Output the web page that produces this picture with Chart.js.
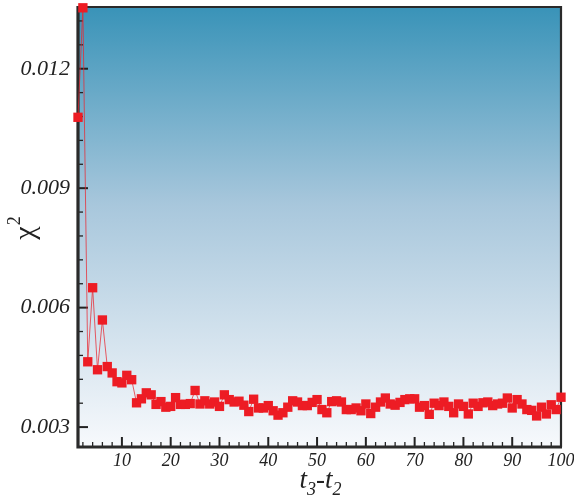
<!DOCTYPE html>
<html>
<head>
<meta charset="utf-8">
<script src="https://cdn.jsdelivr.net/npm/chart.js@4"></script>
<style>
  body { margin: 0; background: #fff; }
  #wrap { width: 574px; height: 499px; }
</style>
</head>
<body>
<div id="wrap"><canvas id="chart" width="574" height="499"></canvas></div>
<script>
// data
const steps = [];
for (let i = 1; i <= 100; i++) steps.push(i);
const chi2 = [
  0.01078, 0.01353, 0.00464, 0.00650, 0.00444, 0.00569, 0.00452, 0.00436, 0.00414, 0.00411,
  0.00430, 0.00419, 0.00361, 0.00371, 0.00386, 0.00381, 0.00357, 0.00364, 0.00350, 0.00352,
  0.00374, 0.00357, 0.00357, 0.00359, 0.00392, 0.00358, 0.00366, 0.00358, 0.00363, 0.00352,
  0.00381, 0.00369, 0.00363, 0.00365, 0.00355, 0.00339, 0.00370, 0.00348, 0.00348, 0.00354,
  0.00341, 0.00330, 0.00336, 0.00350, 0.00366, 0.00363, 0.00354, 0.00354, 0.00362, 0.00369,
  0.00344, 0.00336, 0.00364, 0.00366, 0.00363, 0.00344, 0.00344, 0.00348, 0.00341, 0.00358,
  0.00334, 0.00350, 0.00363, 0.00373, 0.00358, 0.00355, 0.00362, 0.00369, 0.00371, 0.00371,
  0.00350, 0.00354, 0.00332, 0.00360, 0.00354, 0.00363, 0.00352, 0.00336, 0.00358, 0.00352,
  0.00333, 0.00360, 0.00352, 0.00361, 0.00363, 0.00354, 0.00358, 0.00360, 0.00373, 0.00348,
  0.00369, 0.00358, 0.00344, 0.00342, 0.00328, 0.00350, 0.00333, 0.00356, 0.00344, 0.00375
];
const xTicks = [2, 4, 6, 8, 10, 12, 14, 16, 18, 20, 22, 24, 26, 28, 30, 32, 34, 36, 38, 40,
  42, 44, 46, 48, 50, 52, 54, 56, 58, 60, 62, 64, 66, 68, 70, 72, 74, 76, 78, 80,
  82, 84, 86, 88, 90, 92, 94, 96, 98, 100];
const xLabels = [10, 20, 30, 40, 50, 60, 70, 80, 90, 100];
const yTicks = [0.003, 0.0036, 0.0042, 0.0048, 0.0054, 0.006, 0.0066, 0.0072, 0.0078, 0.0084,
  0.009, 0.0096, 0.0102, 0.0108, 0.0114, 0.012, 0.0126, 0.0132];
const yLabels = ["0.003", "0.006", "0.009", "0.012"];

const serif = "'Liberation Serif', 'Times New Roman', serif";

function yLabelFor(v) {
  const s = v.toFixed(3);
  return yLabels.includes(s) && Math.abs(v - Number(s)) < 1e-7 ? s : "";
}

function noPad(axis) {
  axis.paddingLeft = 0;
  axis.paddingRight = 0;
  axis.paddingTop = 0;
  axis.paddingBottom = 0;
}

// background gradient, inward ticks and frame
const framePlugin = {
  id: "frame",
  beforeDatasetsDraw(chart) {
    const { ctx, chartArea: a } = chart;
    const g = ctx.createLinearGradient(0, a.top, 0, a.bottom);
    g.addColorStop(0, "#3993b8");
    g.addColorStop(0.45, "#a8c7dc");
    g.addColorStop(1, "#f7f9fc");
    ctx.save();
    ctx.fillStyle = g;
    ctx.fillRect(a.left, a.top, a.right - a.left, a.bottom - a.top);

    ctx.strokeStyle = "#222";
    const xs = chart.scales.x, ys = chart.scales.y;
    xs.ticks.forEach(t => {
      const px = xs.getPixelForValue(t.value);
      const major = xLabels.includes(t.value);
      ctx.lineWidth = major ? 2 : 1.3;
      ctx.beginPath();
      ctx.moveTo(px, a.bottom);
      ctx.lineTo(px, a.bottom - (major ? 10 : 5));
      ctx.stroke();
    });
    ys.ticks.forEach(t => {
      const py = ys.getPixelForValue(t.value);
      const major = yLabelFor(t.value) !== "";
      ctx.lineWidth = major ? 2 : 1.3;
      ctx.beginPath();
      ctx.moveTo(a.left, py);
      ctx.lineTo(a.left + (major ? 10 : 5), py);
      ctx.stroke();
    });

    ctx.strokeStyle = "#2a2a2a";
    ctx.lineWidth = 2.2;
    ctx.beginPath();
    ctx.moveTo(a.left, a.top);
    ctx.lineTo(a.right, a.top);
    ctx.lineTo(a.right, a.bottom);
    ctx.stroke();
    ctx.lineWidth = 3.2;
    ctx.beginPath();
    ctx.moveTo(a.left, a.top - 1);
    ctx.lineTo(a.left, a.bottom);
    ctx.lineTo(a.right + 1, a.bottom);
    ctx.stroke();
    ctx.restore();
  },
  afterDraw(chart) {
    const { ctx, chartArea: a } = chart;
    ctx.save();
    ctx.fillStyle = "#222";
    // x title: t3-t2 with subscripts
    const big = "italic 27px " + serif;
    const sub = "italic 18px " + serif;
    const parts = [["t", big, 0], ["3", sub, 7], ["-", big, 0], ["t", big, 0], ["2", sub, 7]];
    let w = 0;
    parts.forEach(p => { ctx.font = p[1]; w += ctx.measureText(p[0]).width; });
    let x = (a.left + a.right) / 2 - w / 2 + 1;
    const base = 488;
    ctx.textBaseline = "alphabetic";
    parts.forEach(p => {
      ctx.font = p[1];
      ctx.fillText(p[0], x, base + p[2]);
      x += ctx.measureText(p[0]).width;
    });
    // y title: chi^2 rotated
    ctx.translate(34, 229);
    ctx.rotate(-Math.PI / 2);
    ctx.font = "30px " + serif;
    const cw = ctx.measureText("χ").width;
    ctx.fillText("χ", -cw / 2 - 4, 0);
    ctx.font = "18px " + serif;
    ctx.fillText("2", cw / 2 - 3, -14);
    ctx.restore();
  }
};

new Chart(document.getElementById("chart"), {
  type: "line",
  data: {
    datasets: [{
      data: steps.map((s, i) => ({ x: s, y: chi2[i] })),
      borderColor: "rgba(232, 40, 50, 0.75)",
      borderWidth: 1,
      backgroundColor: "#ed1c24",
      pointBackgroundColor: "#ed1c24",
      pointBorderWidth: 0,
      pointStyle: "rect",
      pointRadius: 6.6,
      tension: 0,
      clip: false
    }]
  },
  options: {
    responsive: false,
    devicePixelRatio: 1,
    animation: false,
    layout: { padding: { top: 7, right: 13, left: 0, bottom: 0 } },
    plugins: { legend: { display: false }, tooltip: { enabled: false } },
    scales: {
      x: {
        type: "linear",
        min: 1,
        max: 100,
        afterBuildTicks: axis => { axis.ticks = xTicks.map(v => ({ value: v })); },
        afterFit: axis => { axis.height = 52; noPad(axis); },
        grid: { display: false, drawTicks: false },
        border: { display: false },
        ticks: {
          autoSkip: false,
          maxRotation: 0,
          padding: 3,
          color: "#222",
          font: { family: serif, size: 18, style: "italic" },
          callback: v => (xLabels.includes(v) ? String(v) : "")
        }
      },
      y: {
        type: "linear",
        min: 0.0025,
        max: 0.01355,
        afterBuildTicks: axis => { axis.ticks = yTicks.map(v => ({ value: v })); },
        afterFit: axis => { axis.width = 78; noPad(axis); },
        grid: { display: false, drawTicks: false },
        border: { display: false },
        ticks: {
          autoSkip: false,
          padding: 8,
          color: "#222",
          font: { family: serif, size: 22, style: "italic" },
          callback: v => yLabelFor(v)
        }
      }
    }
  },
  plugins: [framePlugin]
});
</script>
</body>
</html>
